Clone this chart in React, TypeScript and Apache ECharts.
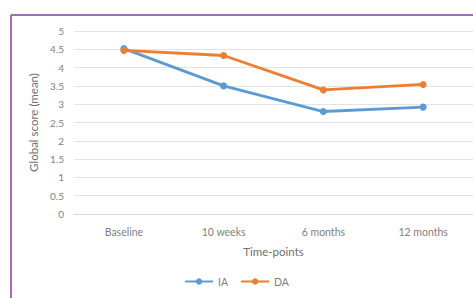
import React, { useEffect, useRef } from "react";
import * as echarts from "echarts";

const categories = ["Baseline", "10 weeks", "6 months", "12 months"];
const iaValues = [4.52, 3.5, 2.8, 2.92];
const daValues = [4.47, 4.33, 3.39, 3.54];
const seriesNames = ["IA", "DA"];

const FONT = "Lato, 'Open Sans', sans-serif";
const GRAY = "#7f7f7f";

export default function App() {
  const ref = useRef<HTMLDivElement>(null);
  useEffect(() => {
    if (!ref.current) return;
    const chart = echarts.init(ref.current, undefined, { renderer: "svg" });
    chart.setOption({
      animation: false,
      backgroundColor: "#ffffff",
      textStyle: { fontFamily: FONT },
      grid: { left: 74, right: 0, top: 31, bottom: 84, containLabel: false },
      legend: {
        data: seriesNames,
        bottom: 6,
        left: "center",
        itemWidth: 28,
        itemHeight: 8,
        itemGap: 12,
        textStyle: { color: GRAY, fontSize: 10.5, fontFamily: FONT },
      },
      xAxis: {
        type: "category",
        data: categories,
        boundaryGap: true,
        name: "Time-points",
        nameLocation: "middle",
        nameGap: 31,
        nameTextStyle: { color: "#707070", fontSize: 11.5, fontFamily: FONT },
        axisLine: { lineStyle: { color: "#d9d9d9", width: 1 } },
        axisTick: { show: false },
        axisLabel: { color: GRAY, fontSize: 10.5, margin: 12, fontFamily: FONT },
      },
      yAxis: {
        type: "value",
        min: 0,
        max: 5,
        interval: 0.5,
        name: "Global score (mean)",
        nameLocation: "middle",
        nameGap: 32,
        nameTextStyle: { color: "#707070", fontSize: 11.5, fontFamily: FONT },
        axisLine: { show: false },
        axisTick: { show: false },
        axisLabel: { color: GRAY, fontSize: 10, margin: 10, fontFamily: FONT },
        splitLine: { lineStyle: { color: "#e3e3e3", width: 1 } },
      },
      series: [
        {
          name: seriesNames[0],
          type: "line",
          data: iaValues,
          color: "#5b9bd5",
          lineStyle: { width: 2.8 },
          symbol: "circle",
          symbolSize: 7,
        },
        {
          name: seriesNames[1],
          type: "line",
          data: daValues,
          color: "#ed7d31",
          lineStyle: { width: 2.8 },
          symbol: "circle",
          symbolSize: 7,
        },
      ],
      graphic: [
        {
          type: "line",
          shape: { x1: 11, y1: 15, x2: 473, y2: 15 },
          style: { stroke: "#a66bb5", lineWidth: 2 },
        },
        {
          type: "line",
          shape: { x1: 11, y1: 15, x2: 11, y2: 298 },
          style: { stroke: "#a66bb5", lineWidth: 2 },
        },
      ],
    });
    return () => chart.dispose();
  }, []);
  return (
    <div
      ref={ref}
      style={{ position: "fixed", left: 0, top: 0, width: 473, height: 298 }}
    />
  );
}
